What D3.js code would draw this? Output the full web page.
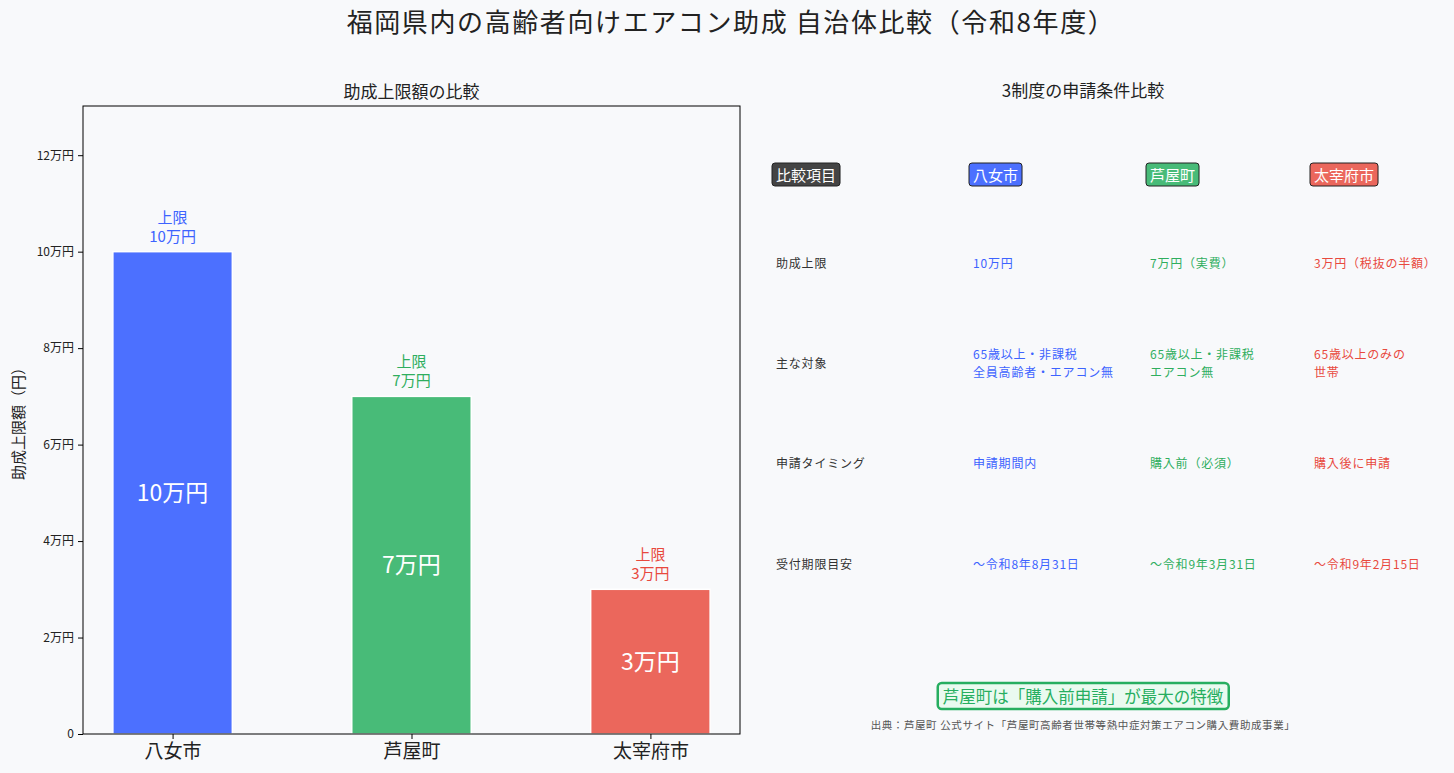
<!DOCTYPE html>
<html>
<head>
<meta charset="utf-8">
<script src="https://cdn.jsdelivr.net/npm/d3@7"></script>
<style>
  body { margin: 0; background: #f8f9fb; }
  text { font-family: "Noto Sans CJK JP", "Noto Sans", sans-serif; }
</style>
</head>
<body>
<div id="chart"></div>
<script>
// DATA
var cities = ["八女市", "芦屋町", "太宰府市"];
var limits = [10, 7, 3]; // 万円
var barColors = ["#4c70ff", "#48bb78", "#eb675c"];
var textColors = ["#3d63ff", "#2fae5e", "#e8493e"];
var yTicks = [0, 2, 4, 6, 8, 10, 12];

var rowLabels = ["助成上限", "主な対象", "申請タイミング", "受付期限目安"];
var yameCol = ["10万円", "65歳以上・非課税\n全員高齢者・エアコン無", "申請期間内", "〜令和8年8月31日"];
var ashiyaCol = ["7万円（実費）", "65歳以上・非課税\nエアコン無", "購入前（必須）", "〜令和9年3月31日"];
var dazaifuCol = ["3万円（税抜の半額）", "65歳以上のみの\n世帯", "購入後に申請", "〜令和9年2月15日"];

var W = 1454, H = 773;
var svg = d3.select("#chart").append("svg")
  .attr("width", W).attr("height", H);

svg.append("rect").attr("width", W).attr("height", H).attr("fill", "#f8f9fb");

// title
svg.append("text").attr("x", 731).attr("y", 32)
  .attr("text-anchor", "middle").attr("font-size", 26).attr("fill", "#222")
  .attr("letter-spacing", 1.6)
  .text("福岡県内の高齢者向けエアコン助成  自治体比較（令和8年度）");

// LEFT: bar chart
var axL = 83, axR = 740, axT = 106, axB = 734;
var x = d3.scaleLinear().domain([-0.375, 2.375]).range([axL, axR]);
var y = d3.scaleLinear().domain([0, 13.02]).range([axB, axT]);
var bw = x(0.5) - x(0);

svg.append("text").attr("x", (axL + axR) / 2).attr("y", 98)
  .attr("text-anchor", "middle").attr("font-size", 17).attr("fill", "#222")
  .text("助成上限額の比較");

var bars = svg.append("g");
bars.selectAll("rect").data(limits).enter().append("rect")
  .attr("x", function (d, i) { return x(i) - bw / 2; })
  .attr("y", function (d) { return y(d); })
  .attr("width", bw)
  .attr("height", function (d) { return y(0) - y(d); })
  .attr("fill", function (d, i) { return barColors[i]; })
  .attr("stroke", "#ffffff").attr("stroke-width", 1.5);

// inside labels
bars.selectAll("text.inner").data(limits).enter().append("text")
  .attr("class", "inner")
  .attr("x", function (d, i) { return x(i); })
  .attr("y", function (d) { return (y(d) + y(0)) / 2 + 8; })
  .attr("text-anchor", "middle").attr("font-size", 23).attr("fill", "#fff")
  .text(function (d) { return d + "万円"; });

// top labels
limits.forEach(function (d, i) {
  var t = svg.append("text").attr("text-anchor", "middle")
    .attr("font-size", 15).attr("fill", textColors[i]);
  t.append("tspan").attr("x", x(i)).attr("y", y(d) - 29).text("上限");
  t.append("tspan").attr("x", x(i)).attr("y", y(d) - 10).text(d + "万円");
});

// axes
var yAxis = d3.axisLeft(y).tickValues(yTicks).tickSize(5).tickPadding(4)
  .tickFormat(function (d) { return d === 0 ? "0" : d + "万円"; });
var gy = svg.append("g").attr("transform", "translate(" + axL + ",0)").call(yAxis);
gy.selectAll("text").attr("font-size", 12).attr("fill", "#222");
gy.select(".domain").remove();

var xAxis = d3.axisBottom(x).tickValues([0, 1, 2]).tickSize(5).tickPadding(6)
  .tickFormat(function (d) { return cities[d]; });
var gx = svg.append("g").attr("transform", "translate(0," + axB + ")").call(xAxis);
gx.selectAll("text").attr("font-size", 19).attr("fill", "#222");
gx.select(".domain").remove();

svg.append("rect").attr("x", axL).attr("y", axT)
  .attr("width", axR - axL).attr("height", axB - axT)
  .attr("fill", "none").attr("stroke", "#000").attr("stroke-width", 1);

svg.append("text")
  .attr("transform", "translate(24," + (axT + axB) / 2 + ") rotate(-90)")
  .attr("text-anchor", "middle").attr("font-size", 15).attr("fill", "#222")
  .text("助成上限額（円）");

// RIGHT: comparison table
svg.append("text").attr("x", 1083).attr("y", 97)
  .attr("text-anchor", "middle").attr("font-size", 17).attr("fill", "#222")
  .text("3制度の申請条件比較");

var colX = [776, 973, 1150, 1314];
var headers = ["比較項目"].concat(cities);
var headerBg = ["#444444"].concat(barColors);
var rowY = [264, 364, 464, 565];

headers.forEach(function (h, i) {
  var g = svg.append("g");
  var t = g.append("text").attr("x", colX[i]).attr("y", 181)
    .attr("font-size", 15).attr("fill", "#fff").text(h);
  var bb = t.node().getBBox();
  g.insert("rect", "text")
    .attr("x", bb.x - 4).attr("y", bb.y - 1)
    .attr("width", bb.width + 8).attr("height", bb.height + 2)
    .attr("rx", 3).attr("fill", headerBg[i])
    .attr("stroke", "#222").attr("stroke-width", 1);
});

var cols = [rowLabels, yameCol, ashiyaCol, dazaifuCol];
var colColors = ["#333333"].concat(textColors);
var lineGap = 17.5;
cols.forEach(function (col, ci) {
  col.forEach(function (cell, ri) {
    var lines = cell.split("\n");
    var t = svg.append("text").attr("font-size", 12).attr("fill", colColors[ci])
      .attr("letter-spacing", 0.8);
    var y0 = rowY[ri] - (lines.length - 1) * lineGap / 2 + 4;
    lines.forEach(function (ln, k) {
      t.append("tspan").attr("x", colX[ci]).attr("y", y0 + k * lineGap).text(ln);
    });
  });
});

// callout
var cg = svg.append("g");
var ct = cg.append("text").attr("x", 1083).attr("y", 703)
  .attr("text-anchor", "middle").attr("font-size", 16.5).attr("fill", "#27ae60")
  .text("芦屋町は「購入前申請」が最大の特徴");
var cb = ct.node().getBBox();
cg.insert("rect", "text")
  .attr("x", cb.x - 5).attr("y", cb.y - 1)
  .attr("width", cb.width + 10).attr("height", cb.height + 2)
  .attr("rx", 4).attr("fill", "#eafaf0")
  .attr("stroke", "#27ae60").attr("stroke-width", 2.5);

svg.append("text").attr("x", 1083).attr("y", 729)
  .attr("text-anchor", "middle").attr("font-size", 10.5).attr("fill", "#555")
  .attr("letter-spacing", 0.6)
  .text("出典：芦屋町 公式サイト「芦屋町高齢者世帯等熱中症対策エアコン購入費助成事業」");
</script>
</body>
</html>
